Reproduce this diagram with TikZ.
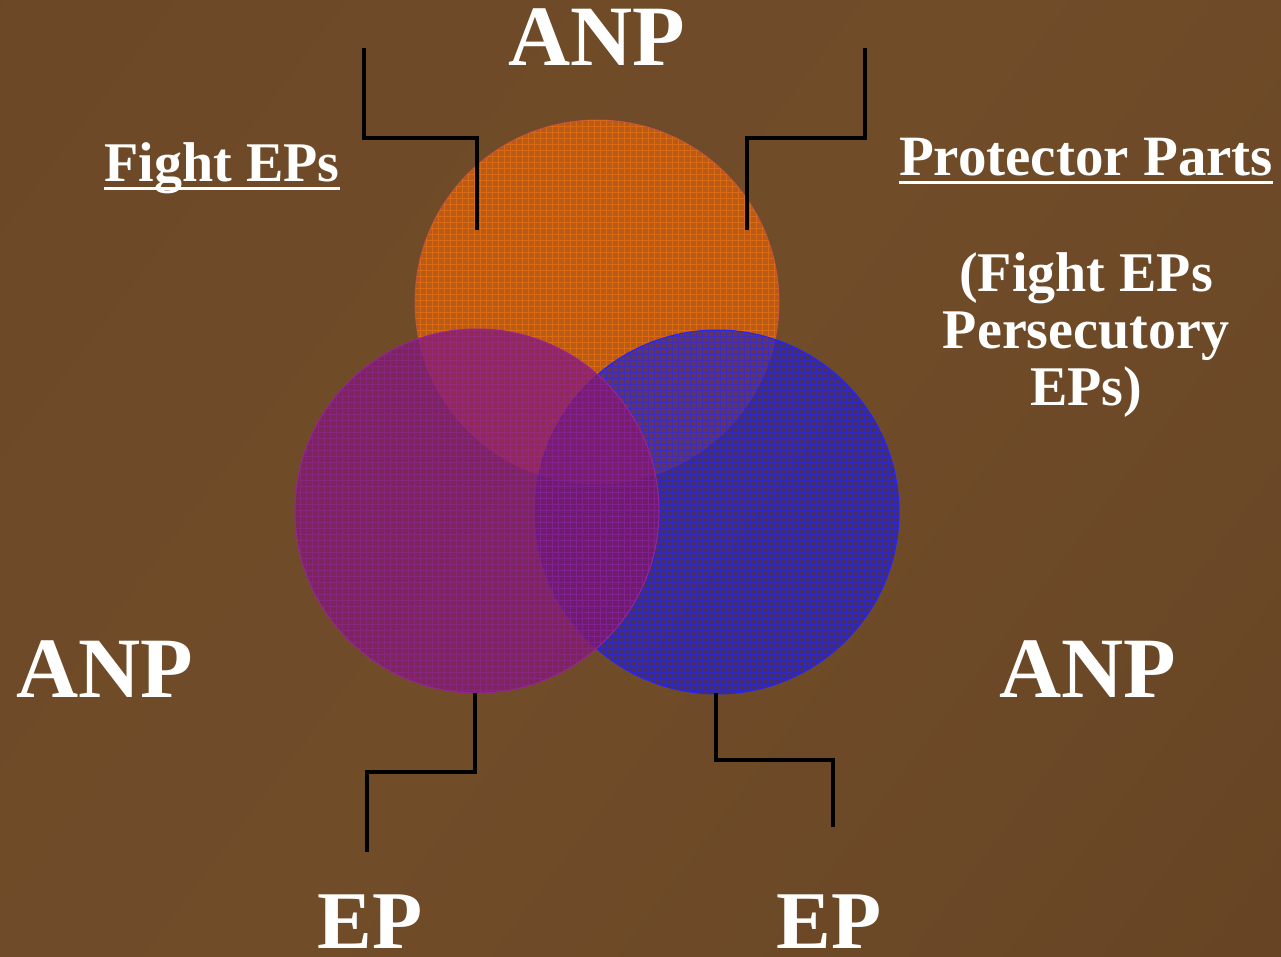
\documentclass[tikz,border=0pt]{standalone}
\usepackage{fontspec}
\setmainfont{Liberation Serif}
\pgfdeclarehorizontalshading{brownwash}{100bp}{%
  rgb(0bp)=(0.392,0.259,0.141);
  rgb(35bp)=(0.435,0.290,0.157);
  rgb(50bp)=(0.443,0.298,0.161);
  rgb(75bp)=(0.404,0.271,0.141);
  rgb(100bp)=(0.337,0.224,0.114)}
\begin{document}
\begin{tikzpicture}[x=1pt,y=-1pt,
  lbl/.style={text=white,font=\bfseries,inner sep=0pt,anchor=base},
  big/.style={lbl,font=\fontsize{86}{86}\selectfont\bfseries},
  mid/.style={lbl,font=\fontsize{56}{57}\selectfont\bfseries},
  ulin/.style={white,line width=3pt},
  wire/.style={black,line width=4pt,line cap=butt,line join=miter},
  disc/.style={circle,minimum size=364pt,inner sep=0pt}
]
% backdrop
\useasboundingbox (0,0) rectangle (1281,957);
\shade[shading=brownwash,shading angle=-37] (-200,-200) rectangle (1481,1157);

% three overlapping discs with a fine grid texture
\definecolor{orfill}{RGB}{200,96,20}
\definecolor{orline}{RGB}{232,112,18}
\definecolor{pufill}{RGB}{126,24,110}
\definecolor{puline}{RGB}{150,36,150}
\definecolor{blfill}{RGB}{46,30,128}
\definecolor{blline}{RGB}{36,36,250}

\node[disc,fill=orfill,fill opacity=0.8,draw={rgb,255:red,200;green,80;blue,80},draw opacity=0.8,line width=1pt] (top) at (597,302) {};
\begin{scope}
  \clip (597,302) circle[radius=182];
  \draw[orline,line width=0.7pt,opacity=0.7,step=6pt] (410,115) grid (785,490);
\end{scope}

\node[disc,fill=blfill,fill opacity=0.62,draw=blline,line width=1pt] (rgt) at (717,512) {};
\begin{scope}
  \clip (717,512) circle[radius=182];
  \draw[blline,line width=0.7pt,opacity=0.65,step=6pt] (530,325) grid (905,700);
\end{scope}

\node[disc,fill=pufill,fill opacity=0.7,draw=puline,line width=1pt] (lft) at (477,511) {};
\begin{scope}
  \clip (477,511) circle[radius=182];
  \draw[puline,line width=0.7pt,opacity=0.6,step=6pt] (290,325) grid (665,700);
\end{scope}

% connector ends
\coordinate (tlA) at (364,48);
\coordinate (tlB) at (477,230);
\coordinate (trA) at (865,48);
\coordinate (trB) at (747,230);
\coordinate (blA) at (475,693);
\coordinate (blB) at (367,852);
\coordinate (brA) at (716,693);
\coordinate (brB) at (833,827);

\draw[wire] (tlA) |- (477,138) -- (tlB);
\draw[wire] (trA) |- (747,138) -- (trB);
\draw[wire] (blA) |- (367,772) -- (blB);
\draw[wire] (brA) |- (833,760) -- (brB);

% labels
\node[big] (anpT) at (597,66) {ANP};
\node[big] (anpL) at (105,697) {ANP};
\node[big] (anpR) at (1088,697) {ANP};
\node[big,font=\fontsize{82}{82}\selectfont\bfseries] (epL) at (370,948) {EP};
\node[big,font=\fontsize{82}{82}\selectfont\bfseries] (epR) at (829,948) {EP};

\node[mid] (fight) at (222,182) {Fight EPs};
\draw[ulin] ([yshift=-7pt]fight.base west) -- ([yshift=-7pt]fight.base east);
\node[mid,font=\fontsize{57}{57}\selectfont\bfseries] (prot) at (1086,176) {Protector Parts};
\draw[ulin] ([yshift=-7pt]prot.base west) -- ([yshift=-7pt]prot.base east);

\node[mid,align=center,anchor=north] (group) at (1086,252) {(Fight EPs\\Persecutory\\EPs)};
\end{tikzpicture}
\end{document}
